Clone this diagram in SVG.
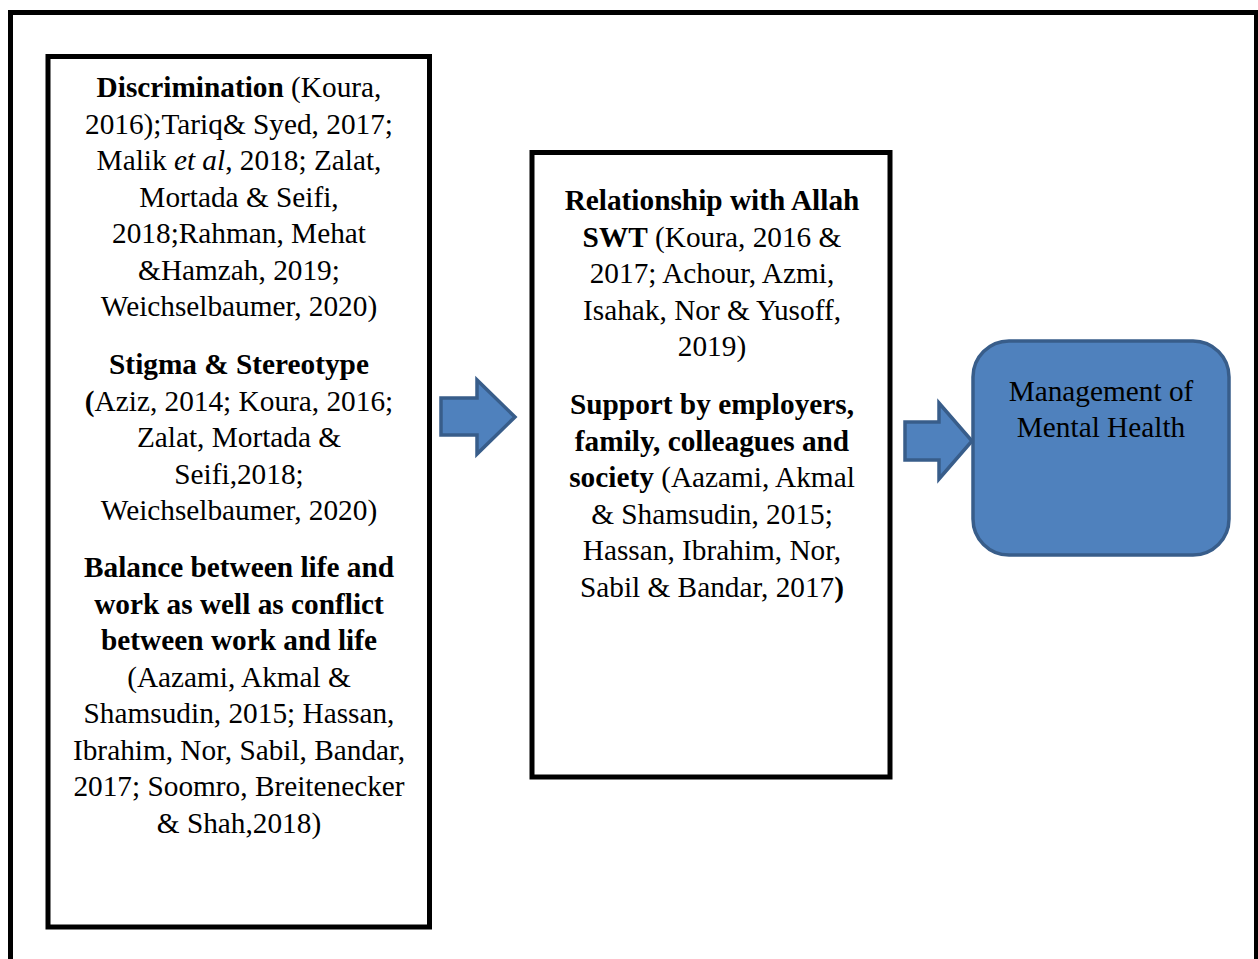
<svg xmlns="http://www.w3.org/2000/svg" width="1258" height="959" viewBox="0 0 1258 959">
<style>
.t{font-family:"Liberation Serif","Times New Roman",serif;font-size:29.3px;fill:#000;text-anchor:middle}
.b{font-weight:bold}
.i{font-style:italic}
.box{fill:#fff;stroke:#000;stroke-width:5}
.blue{fill:#4F81BD;stroke:#385D8A;stroke-width:3.5;stroke-linejoin:miter}
</style>
<rect width="1258" height="959" fill="#fff"/>
<rect id="frame" x="10.5" y="12.5" width="1246" height="970" fill="none" stroke="#000" stroke-width="5"/>
<g id="factors">
<rect class="box" x="48" y="56.5" width="381.5" height="870.5"/>
<text class="t" x="239" y="97"><tspan class="b">Discrimination</tspan> (Koura,</text>
<text class="t" x="239" y="133.5">2016);Tariq&amp; Syed, 2017;</text>
<text class="t" x="239" y="170">Malik <tspan class="i">et al</tspan>, 2018; Zalat,</text>
<text class="t" x="239" y="206.5">Mortada &amp; Seifi,</text>
<text class="t" x="239" y="243">2018;Rahman, Mehat</text>
<text class="t" x="239" y="279.5">&amp;Hamzah, 2019;</text>
<text class="t" x="239" y="316">Weichselbaumer, 2020)</text>
<text class="t b" x="239" y="374">Stigma &amp; Stereotype</text>
<text class="t" x="239" y="410.5"><tspan class="b">(</tspan>Aziz, 2014; Koura, 2016;</text>
<text class="t" x="239" y="447">Zalat, Mortada &amp;</text>
<text class="t" x="239" y="483.5">Seifi,2018;</text>
<text class="t" x="239" y="520">Weichselbaumer, 2020)</text>
<text class="t b" x="239" y="577">Balance between life and</text>
<text class="t b" x="239" y="613.5">work as well as conflict</text>
<text class="t b" x="239" y="650">between work and life</text>
<text class="t" x="239" y="686.5">(Aazami, Akmal &amp;</text>
<text class="t" x="239" y="723">Shamsudin, 2015; Hassan,</text>
<text class="t" x="239" y="759.5">Ibrahim, Nor, Sabil, Bandar,</text>
<text class="t" x="239" y="796">2017; Soomro, Breitenecker</text>
<text class="t" x="239" y="832.5">&amp; Shah,2018)</text>
</g>
<g id="support">
<rect class="box" x="532" y="152.5" width="358" height="624.5"/>
<text class="t" x="712" y="210"><tspan class="b">Relationship with Allah</tspan></text>
<text class="t" x="712" y="246.5"><tspan class="b">SWT</tspan> (Koura, 2016 &amp;</text>
<text class="t" x="712" y="283">2017; Achour, Azmi,</text>
<text class="t" x="712" y="319.5">Isahak, Nor &amp; Yusoff,</text>
<text class="t" x="712" y="356">2019)</text>
<text class="t b" x="712" y="414">Support by employers,</text>
<text class="t b" x="712" y="450.5">family, colleagues and</text>
<text class="t" x="712" y="487"><tspan class="b">society</tspan> (Aazami, Akmal</text>
<text class="t" x="712" y="523.5">&amp; Shamsudin, 2015;</text>
<text class="t" x="712" y="560">Hassan, Ibrahim, Nor,</text>
<text class="t" x="712" y="596.5">Sabil &amp; Bandar, 2017<tspan class="b">)</tspan></text>
</g>
<g id="outcome">
<rect class="blue" x="973" y="341" width="256" height="214" rx="36" ry="36"/>
<text class="t" x="1101" y="401">Management of</text>
<text class="t" x="1101" y="437">Mental Health</text>
</g>
<g id="connectors">
<polygon class="blue" points="441,398 477,398 477,380 515,417 477,454 477,435 441,435"/>
<polygon class="blue" points="905,422 939,422 939,403 972,441 939,479 939,460 905,460"/>
</g>
</svg>
